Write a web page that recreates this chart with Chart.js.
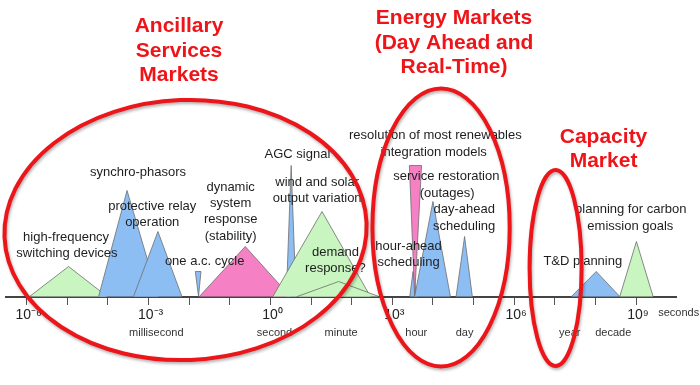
<!DOCTYPE html>
<html>
<head>
<meta charset="utf-8">
<script src="https://cdn.jsdelivr.net/npm/chart.js@4"></script>
<style>
  body { margin: 0; background: #fff; }
</style>
</head>
<body>
<canvas id="chart" width="700" height="385"></canvas>
<script>
// x = log10(seconds), y = relative height of each time-scale triangle
const shapeNames = ['high-frequency switching devices', 'synchro-phasors', 'protective relay operation',
  'one a.c. cycle', 'dynamic system response', 'AGC signal', 'wind and solar output variation',
  'demand response', 'hour-ahead scheduling', 'renewables integration models', 'service restoration',
  'day-ahead scheduling', 'T&D planning', 'carbon emission goals'];
const shapeKind = ['green', 'blue', 'blue', 'blue', 'pink', 'blue', 'green', 'green', 'blue', 'pink', 'blue', 'blue', 'blue', 'green'];
const startAt = [-5.93, -4.23, -3.37, -1.85, -1.75, 0.39, 0.06, 0.66, 3.43, 3.42, 3.55, 4.57, 7.41, 8.60];
const peakAt  = [-4.97, -3.53, -2.77, -1.77, -0.62, 0.51, 1.27, 1.68, 3.51, 3.55, 4.00, 4.78, 8.02, 9.01];
const endAt   = [-4.02, -2.76, -2.18, -1.71, 0.49, 0.63, 2.46, 2.67, 3.60, 3.72, 4.43, 4.97, 8.60, 9.42];
const heights = [30, 106, 65, 25, 50, 131, 85, 15, 25, 131, 95, 60, 25, 55];
const inverted = [false, false, false, true, false, false, false, false, false, true, false, false, false, false];

// axis
const labelledExponents = [-6, -3, 0, 3, 6, 9];
const unitNames = ['millisecond', 'second', 'minute', 'hour', 'day', 'year', 'decade'];
const unitAt = [-2.81, 0.1, 1.74, 3.59, 4.78, 7.37, 8.44];

// text notes next to the triangles
const noteText = ['synchro-phasors', 'protective relay', 'operation', 'high-frequency', 'switching devices',
  'one a.c. cycle', 'dynamic', 'system', 'response', '(stability)', 'AGC signal', 'wind and solar',
  'output variation', 'demand', 'response?', 'resolution of most renewables', 'integration models',
  'service restoration', '(outages)', 'day-ahead', 'scheduling', 'hour-ahead', 'scheduling',
  'T&D planning', 'planning for carbon', 'emission goals'];
const noteAt = [-3.26, -2.91, -2.91, -5.03, -5.01, -1.62, -0.98, -0.98, -0.98, -0.98, 0.665, 1.15,
  1.15, 1.6, 1.6, 4.06, 4.02, 4.33, 4.35, 4.77, 4.77, 3.40, 3.40, 7.69, 8.87, 8.86];
const noteHeight = [123.8, 90.5, 74.2, 59.2, 43.2, 35.5, 109.2, 93.2, 76.8, 60.5, 142.5, 113.8,
  98.2, 43.8, 28.2, 160.8, 144.2, 119.8, 103.2, 87.2, 70.5, 50.5, 33.8, 35.5, 87.2, 70.5];

// market groups: title lines and the ellipse round them
const marketTitles = [['Ancillary', 'Services', 'Markets'], ['Energy Markets', '(Day Ahead and', 'Real-Time)'], ['Capacity', 'Market']];
const titleAt = [-2.25, 4.52, 8.2];
const titleHeight = [270.2, 278.2, 159.5];
const ringAt = [-2.09, 4.2, 7.02];
const ringHeight = [66.5, 69, 28.5];
const ringWidth = [4.46, 1.69, 0.64];   // half width, decades
const ringTall = [130, 139, 98];        // half height

const fillColors = { blue: '#8cbef4', green: '#c8f5c0', pink: '#f580c4' };
const sup = { '-': '\u207B', '0': '\u2070', '3': '\u00B3', '6': '\u2076', '9': '\u2079' };

const datasets = shapeNames.map((name, i) => {
  const h = heights[i];
  const pts = inverted[i]
    ? [{ x: startAt[i], y: h }, { x: endAt[i], y: h }, { x: peakAt[i], y: 0 }, { x: startAt[i], y: h }]
    : [{ x: startAt[i], y: 0 }, { x: peakAt[i], y: h }, { x: endAt[i], y: 0 }];
  return {
    label: name,
    data: pts,
    fill: 'shape',
    backgroundColor: fillColors[shapeKind[i]],
    borderColor: 'rgba(110,110,110,0.8)',
    borderWidth: 1,
    pointRadius: 0,
    tension: 0,
    order: shapeNames.length - i
  };
});

// draws the notes, unit names, red titles and ellipses
const overlay = {
  id: 'overlay',
  afterDraw(chart) {
    const { ctx } = chart;
    const xs = chart.scales.x, ys = chart.scales.y;
    const px = v => xs.getPixelForValue(v);
    const py = v => ys.getPixelForValue(v);
    ctx.save();
    ctx.textAlign = 'center';
    ctx.textBaseline = 'middle';

    ctx.fillStyle = '#1e1e1e';
    ctx.font = '13px "Liberation Sans", Arial, sans-serif';
    noteText.forEach((t, i) => ctx.fillText(t, px(noteAt[i]), py(noteHeight[i])));

    ctx.fillStyle = '#333';
    ctx.font = '11px "Liberation Sans", Arial, sans-serif';
    unitNames.forEach((t, i) => ctx.fillText(t, px(unitAt[i]), py(-36.2)));
    ctx.fillText('seconds', px(10.05), py(-16.2));

    ctx.fillStyle = '#ee1418';
    ctx.font = 'bold 21px "Liberation Sans", Arial, sans-serif';
    marketTitles.forEach((lines, i) => {
      lines.forEach((t, k) => ctx.fillText(t, px(titleAt[i]), py(titleHeight[i] - k * 24.5)));
    });

    ctx.strokeStyle = '#ec1519';
    ctx.lineWidth = 4;
    ctx.shadowColor = 'rgba(0,0,0,0.3)';
    ctx.shadowBlur = 3;
    ctx.shadowOffsetX = 1;
    ctx.shadowOffsetY = 2;
    ringAt.forEach((c, i) => {
      const cx = px(c), cy = py(ringHeight[i]);
      const rx = px(c + ringWidth[i]) - cx;
      const ry = cy - py(ringHeight[i] + ringTall[i]);
      ctx.beginPath();
      ctx.ellipse(cx, cy, rx, ry, i === 0 ? -0.04 : 0, 0, Math.PI * 2);
      ctx.stroke();
    });
    ctx.restore();
  }
};

new Chart(document.getElementById('chart').getContext('2d'), {
  type: 'line',
  data: { datasets },
  options: {
    responsive: false,
    animation: false,
    events: [],
    layout: { padding: { left: 6, right: 24, top: 0, bottom: 0 } },
    plugins: { legend: { display: false }, tooltip: { enabled: false } },
    scales: {
      x: {
        type: 'linear',
        position: { y: 0 },
        min: -6.51,
        max: 9.984,
        z: 1,
        border: { display: true, color: '#444', width: 2 },
        grid: { drawOnChartArea: false, drawTicks: true, tickLength: 7, color: '#555' },
        ticks: {
          stepSize: 1,
          includeBounds: false,
          autoSkip: false,
          maxRotation: 0,
          padding: 3,
          labelOffset: 2,
          color: '#222',
          font: { family: '"Liberation Sans", Arial, sans-serif', size: 14 },
          callback: v => {
            const e = Math.round(v);
            if (Math.abs(v - e) > 1e-6 || !labelledExponents.includes(e)) return '';
            return '10' + String(e).split('').map(c => sup[c]).join('');
          }
        }
      },
      y: { type: 'linear', display: false, min: -88.5, max: 296.5 }
    }
  },
  plugins: [overlay]
});
</script>
</body>
</html>
